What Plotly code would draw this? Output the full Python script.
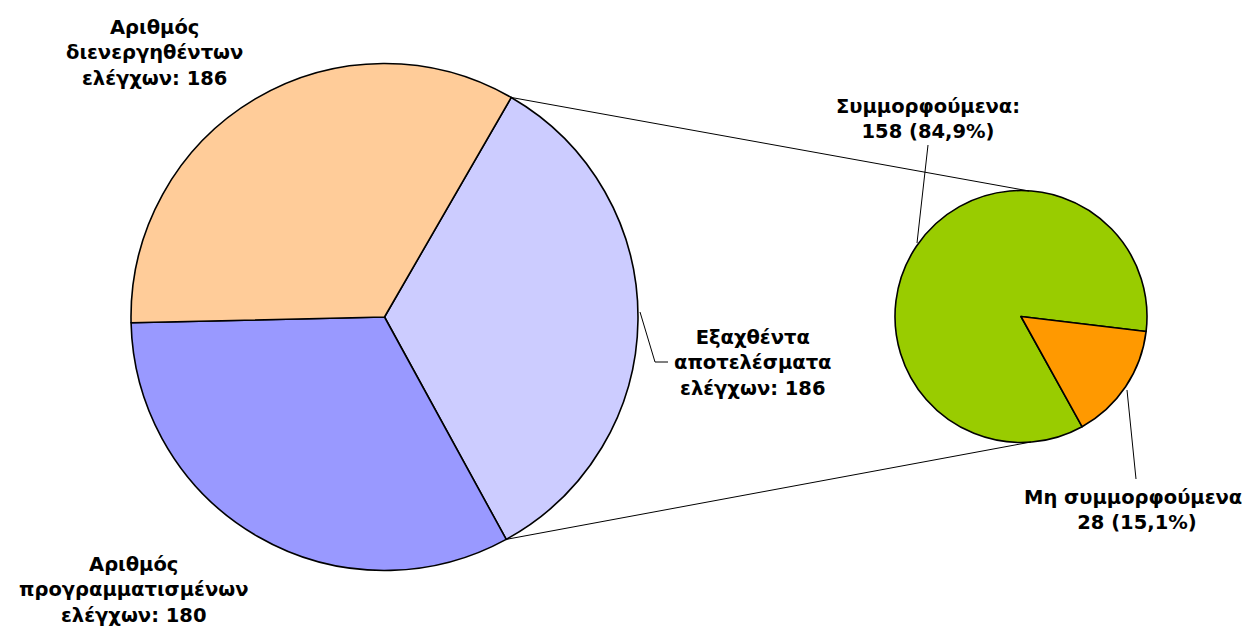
import math
import plotly.graph_objects as go

W, H = 1251, 626
OFF = 8  # page body margin offset

# ---- data ----
main_labels = ["Εξαχθέντα αποτελέσματα ελέγχων", "Αριθμός προγραμματισμένων ελέγχων", "Αριθμός διενεργηθέντων ελέγχων"]
main_values = [186, 180, 186]
main_colors = ["#CCCCFF", "#9999FF", "#FFCC99"]

sub_labels = ["Συμμορφούμενα", "Μη συμμορφούμενα"]
sub_values = [158, 28]
sub_colors = ["#99CC00", "#FF9900"]

main_text = [
    "Εξαχθέντα<br>αποτελέσματα<br>ελέγχων: 186",
    "Αριθμός<br>προγραμματισμένων<br>ελέγχων: 180",
    "Αριθμός<br>διενεργηθέντων<br>ελέγχων: 186",
]
sub_text = [
    "Συμμορφούμενα:<br>158 (84,9%)",
    "Μη συμμορφούμενα:<br>28 (15,1%)",
]

# ---- layout geometry (pixels, window coordinates) ----
C1, R1 = (384.5, 317.0), 253.5
C2, R2 = (1021.0, 316.5), 126.0
ROT1 = 30
ROT2 = 151


def px(x):
    return (x - OFF) / W


def py(y):
    return 1 - (y - OFF) / H


def dom(c, r):
    return dict(x=[px(c[0] - r), px(c[0] + r)], y=[py(c[1] + r), py(c[1] - r)])


fig = go.Figure()
fig.add_trace(go.Pie(
    labels=main_labels, values=main_values, sort=False, direction="clockwise",
    rotation=ROT1, textinfo="none", hoverinfo="label+value",
    marker=dict(colors=main_colors, line=dict(color="black", width=1.6)),
    domain=dom(C1, R1), showlegend=False,
))
fig.add_trace(go.Pie(
    labels=sub_labels, values=sub_values, sort=False, direction="clockwise",
    rotation=ROT2, textinfo="none", hoverinfo="label+value+percent",
    marker=dict(colors=sub_colors, line=dict(color="black", width=1.6)),
    domain=dom(C2, R2), showlegend=False,
))


def pt(c, r, ang):
    a = math.radians(ang)
    return c[0] + r * math.sin(a), c[1] - r * math.cos(a)


# connector lines between the exploded slice and the secondary pie
tot = sum(main_values)
a0 = ROT1
a1 = ROT1 + main_values[0] / tot * 360
p_top = pt(C1, R1, a0)
p_bot = pt(C1, R1, a1)
shapes = [
    dict(type="line", xref="paper", yref="paper", x0=px(p_top[0]), y0=py(p_top[1]),
         x1=px(C2[0] + 8), y1=py(C2[1] - R2 + 0.5), line=dict(color="black", width=1)),
    dict(type="line", xref="paper", yref="paper", x0=px(p_bot[0]), y0=py(p_bot[1]),
         x1=px(C2[0] + 10), y1=py(C2[1] + R2 - 0.5), line=dict(color="black", width=1)),
]

# leader lines
leaders = [
    [(640, 312), (655, 362), (668, 362)],
    [(928, 145), (917, 243)],
    [(1127, 390), (1136, 479)],
]
for pts in leaders:
    path = "M " + " L ".join(f"{px(x)},{py(y)}" for x, y in pts)
    shapes.append(dict(type="path", xref="paper", yref="paper", path=path,
                       line=dict(color="black", width=1)))

font = dict(family="Verdana, DejaVu Sans, sans-serif", size=19.5, color="black", weight="bold")
ann_pos = [(753, 363), (133, 590), (154, 53)]
sub_pos = [(928, 118.5), (1137, 509.5)]
annotations = []
for t, (x, y) in zip(main_text + sub_text, ann_pos + sub_pos):
    annotations.append(dict(text=t, x=px(x), y=py(y), xref="paper", yref="paper",
                            xanchor="center", yanchor="middle", showarrow=False,
                            font=font, align="center"))

fig.update_layout(
    width=W, height=H, margin=dict(l=0, r=0, t=0, b=0),
    paper_bgcolor="white", plot_bgcolor="white",
    shapes=shapes, annotations=annotations,
)
fig.write_html("out.html")
